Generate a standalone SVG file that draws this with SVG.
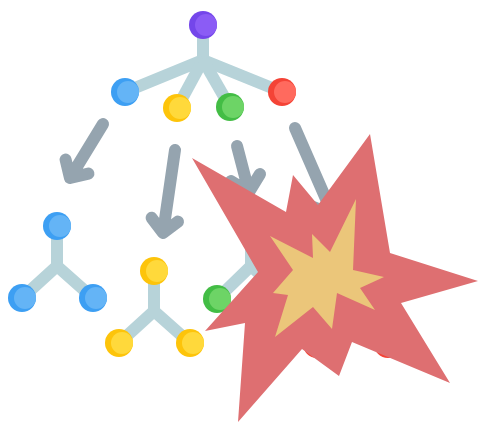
<svg xmlns="http://www.w3.org/2000/svg" width="504" height="424" viewBox="0 0 504 424">
  <defs>
    <style>
      .link { stroke: #b7d3d9; stroke-width: 12; fill: none; stroke-linecap: butt; }
      .arrow { stroke: #95a4af; stroke-width: 12; fill: none; stroke-linecap: round; stroke-linejoin: round; }
      .purple .dk { fill: #7446ea; } .purple .lt { fill: #8b5cf5; }
      .blue .dk { fill: #3d9ff3; } .blue .lt { fill: #64b4f6; }
      .yellow .dk { fill: #fdc40a; } .yellow .lt { fill: #ffd93b; }
      .green .dk { fill: #43bd45; } .green .lt { fill: #6dd466; }
      .red .dk { fill: #f44336; } .red .lt { fill: #ff6a5e; }
      .burst-outer { fill: #de6f71; }
      .burst-inner { fill: #ebc67a; }
    </style>
  </defs>

  <rect width="504" height="424" fill="#ffffff"/>

  <!-- connectors -->
  <g id="connectors">
    <!-- top tree -->
    <line class="link" x1="203" y1="25" x2="203" y2="60"/>
    <line class="link" x1="203" y1="60" x2="125" y2="92"/>
    <line class="link" x1="203" y1="60" x2="282" y2="92"/>
    <line class="link" x1="203" y1="60" x2="177" y2="108"/>
    <line class="link" x1="203" y1="60" x2="230" y2="107"/>
    <!-- blue tree -->
    <path class="link" d="M57,226 V266 M22,298 L57,266 L93,298"/>
    <!-- yellow tree -->
    <path class="link" d="M154,271 V311 M119,343 L154,311 L190,343"/>
    <!-- green tree -->
    <path class="link" d="M251,226 V266 M217,299 L251,266 L287,299"/>
    <!-- red tree -->
    <path class="link" d="M353,271 V311 M317,344 L353,311 L388,344"/>
  </g>

  <!-- two-tone nodes: darker disc with a lighter disc shifted right -->
  <g id="root" class="purple"><circle class="dk" cx="203" cy="25" r="14"/><circle class="lt" cx="206" cy="25" r="11"/></g>
  <g id="top-blue" class="blue"><circle class="dk" cx="125" cy="92" r="14"/><circle class="lt" cx="128" cy="92" r="11"/></g>
  <g id="top-yellow" class="yellow"><circle class="dk" cx="177" cy="108" r="14"/><circle class="lt" cx="180" cy="108" r="11"/></g>
  <g id="top-green" class="green"><circle class="dk" cx="230" cy="107" r="14"/><circle class="lt" cx="233" cy="107" r="11"/></g>
  <g id="top-red" class="red"><circle class="dk" cx="282" cy="92" r="14"/><circle class="lt" cx="285" cy="92" r="11"/></g>

  <g id="blue-top" class="blue"><circle class="dk" cx="57" cy="226" r="14"/><circle class="lt" cx="60" cy="226" r="11"/></g>
  <g id="blue-left" class="blue"><circle class="dk" cx="22" cy="298" r="14"/><circle class="lt" cx="25" cy="298" r="11"/></g>
  <g id="blue-right" class="blue"><circle class="dk" cx="93" cy="298" r="14"/><circle class="lt" cx="96" cy="298" r="11"/></g>

  <g id="yellow-top" class="yellow"><circle class="dk" cx="154" cy="271" r="14"/><circle class="lt" cx="157" cy="271" r="11"/></g>
  <g id="yellow-left" class="yellow"><circle class="dk" cx="119" cy="343" r="14"/><circle class="lt" cx="122" cy="343" r="11"/></g>
  <g id="yellow-right" class="yellow"><circle class="dk" cx="190" cy="343" r="14"/><circle class="lt" cx="193" cy="343" r="11"/></g>

  <g id="green-top" class="green"><circle class="dk" cx="251" cy="226" r="14"/><circle class="lt" cx="254" cy="226" r="11"/></g>
  <g id="green-left" class="green"><circle class="dk" cx="217" cy="299" r="14"/><circle class="lt" cx="220" cy="299" r="11"/></g>
  <g id="green-right" class="green"><circle class="dk" cx="287" cy="299" r="14"/><circle class="lt" cx="290" cy="299" r="11"/></g>

  <g id="red-top" class="red"><circle class="dk" cx="353" cy="271" r="14"/><circle class="lt" cx="356" cy="271" r="11"/></g>
  <g id="red-left" class="red"><circle class="dk" cx="317" cy="344" r="14"/><circle class="lt" cx="320" cy="344" r="11"/></g>
  <g id="red-right" class="red"><circle class="dk" cx="388" cy="344" r="14"/><circle class="lt" cx="391" cy="344" r="11"/></g>

  <!-- split arrows -->
  <g id="arrows">
    <path class="arrow" d="M103,124 L70,178 M65.6,159.6 L70,178 L88.4,173.6"/>
    <path class="arrow" d="M175,150 L163,233 M151.6,217.8 L163,233 L178,221.6"/>
    <path class="arrow" d="M237,146 L249,192 M231,181 L249,192 L260,174"/>
    <path class="arrow" d="M295,128 L333,215 M313.5,207 L333,215 L341,195"/>
  </g>

  <!-- explosion -->
  <g id="explosion">
    <polygon class="burst-outer" points="192,158 286,212 293,175 318,205 370,134 390,253 478,281 401,303 450,383 352,342 339,376 302,349 238,422 245,323 205,331 258,272"/>
    <polygon class="burst-inner" points="356,199 330,252 312,234 313,258 270,236 293,270 273,293 288,295 275,337 313,307 332,329 337,293 375,310 360,288 384,277 353,270"/>
  </g>
</svg>
